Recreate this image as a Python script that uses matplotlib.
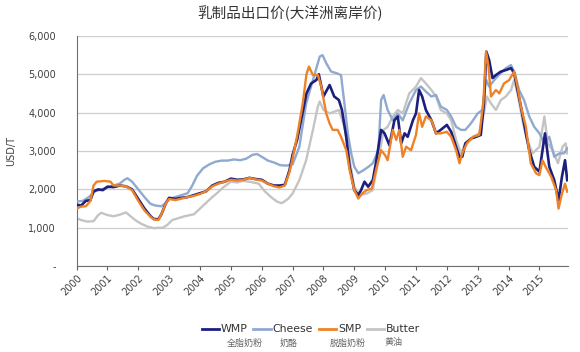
import matplotlib
matplotlib.use("Agg")
import matplotlib.pyplot as plt
from matplotlib.lines import Line2D

plt.rcParams['font.family'] = ['Noto Sans CJK SC', 'DejaVu Sans']

title = "乳制品出口价(大洋洲离岸价)"
y_label = "USD/T"
series_names = ["WMP", "Cheese", "SMP", "Butter"]
series_cn = ["全脂奶粉", "奶酪", "脱脂奶粉", "黄油"]
years = list(range(2000, 2016))
y_ticks = [0, 1000, 2000, 3000, 4000, 5000, 6000]
y_tick_labels = ["-", "1,000", "2,000", "3,000", "4,000", "5,000", "6,000"]

wmp_dates = [2000.0, 2000.15, 2000.3, 2000.45, 2000.55, 2000.7, 2000.85, 2001.0, 2001.2, 2001.4, 2001.6, 2001.8,
             2002.0, 2002.2, 2002.4, 2002.5, 2002.65, 2002.75, 2002.9, 2003.0, 2003.2, 2003.4, 2003.6, 2003.8,
             2004.0, 2004.2, 2004.4, 2004.6, 2004.8, 2005.0, 2005.2, 2005.4, 2005.6, 2005.8, 2006.0, 2006.2,
             2006.4, 2006.58, 2006.75, 2006.9, 2007.0, 2007.15, 2007.3, 2007.45, 2007.6, 2007.77, 2007.85,
             2008.0, 2008.2, 2008.35, 2008.5, 2008.6, 2008.74, 2008.85, 2009.0, 2009.13, 2009.22, 2009.33,
             2009.45, 2009.6, 2009.7, 2009.87, 2009.98, 2010.14, 2010.3, 2010.41, 2010.52, 2010.63, 2010.73,
             2010.9, 2011.0, 2011.1, 2011.2, 2011.32, 2011.5, 2011.65, 2011.8, 2012.0, 2012.14, 2012.3,
             2012.41, 2012.5, 2012.6, 2012.8, 2012.95, 2013.1, 2013.2, 2013.28, 2013.37, 2013.48, 2013.59,
             2013.75, 2013.91, 2014.08, 2014.18, 2014.29, 2014.4, 2014.56, 2014.67, 2014.83, 2015.0, 2015.1,
             2015.18, 2015.32, 2015.48, 2015.62, 2015.73, 2015.83, 2015.9]
wmp_values = [1600, 1580, 1700, 1720, 1950, 2000, 1980, 2070, 2060, 2100, 2080, 2000,
              1750, 1500, 1300, 1230, 1220, 1350, 1650, 1780, 1750, 1780, 1800, 1850,
              1900, 1950, 2100, 2170, 2200, 2280, 2250, 2260, 2300, 2270, 2250, 2150,
              2100, 2100, 2120, 2500, 2900, 3300, 3900, 4500, 4760, 4850, 5000,
              4420, 4720, 4420, 4330, 4070, 3370, 2590, 1980, 1850, 1980, 2200,
              2070, 2240, 2680, 3550, 3460, 3150, 3800, 3900, 3200, 3460, 3370,
              3800, 3980, 4590, 4420, 4070, 3800, 3460, 3550, 3680, 3500, 3110,
              2850, 2850, 3200, 3330, 3370, 3420, 4240, 5590, 5370, 4900, 4980,
              5070, 5110, 5160, 5030, 4590, 4160, 3460, 3020, 2590, 2460, 3020,
              3460, 2590, 2240, 1720, 2330, 2760, 2240]

smp_dates = [2000.0, 2000.15, 2000.3, 2000.45, 2000.55, 2000.65, 2000.9, 2001.1, 2001.2, 2001.4, 2001.6, 2001.8,
             2002.0, 2002.2, 2002.4, 2002.5, 2002.65, 2002.75, 2002.9, 2003.0, 2003.2, 2003.4, 2003.6, 2003.8,
             2004.0, 2004.2, 2004.4, 2004.6, 2004.8, 2005.0, 2005.2, 2005.4, 2005.6, 2005.8, 2006.0, 2006.2,
             2006.4, 2006.58, 2006.75, 2006.9, 2007.0, 2007.15, 2007.33, 2007.45, 2007.53, 2007.66, 2007.82,
             2007.93, 2008.09, 2008.2, 2008.3, 2008.46, 2008.57, 2008.74, 2008.85, 2009.0, 2009.13, 2009.25,
             2009.4, 2009.57, 2009.73, 2009.87, 2010.0, 2010.08, 2010.25, 2010.36, 2010.46, 2010.57, 2010.68,
             2010.84, 2011.0, 2011.1, 2011.2, 2011.32, 2011.5, 2011.65, 2011.8, 2012.0, 2012.14, 2012.3,
             2012.41, 2012.5, 2012.65, 2012.85, 2013.05, 2013.18, 2013.27, 2013.35, 2013.43, 2013.59, 2013.7,
             2013.85, 2014.02, 2014.18, 2014.29, 2014.4, 2014.56, 2014.72, 2014.89, 2015.0, 2015.1, 2015.2,
             2015.38, 2015.54, 2015.62, 2015.73, 2015.83, 2015.9]
smp_values = [1500, 1550, 1560, 1700, 2100, 2200, 2220, 2200, 2100, 2100, 2080, 1980,
              1700, 1450, 1280, 1220, 1200, 1350, 1650, 1750, 1720, 1760, 1800, 1830,
              1880, 1950, 2080, 2150, 2200, 2250, 2230, 2250, 2300, 2260, 2230, 2150,
              2080, 2050, 2100, 2450, 2800, 3400, 4240, 5000, 5200, 4980, 4980,
              4680, 3980, 3720, 3550, 3550, 3370, 3020, 2500, 1980, 1760, 1890,
              1980, 2020, 2590, 3020, 2890, 2760, 3550, 3290, 3550, 2850, 3110,
              3020, 3420, 3980, 3630, 3900, 3800, 3460, 3460, 3500, 3370, 3020,
              2680, 2940, 3200, 3370, 3420, 4240, 5590, 5200, 4420, 4590, 4500,
              4760, 4850, 5070, 4680, 4160, 3630, 2680, 2420, 2370, 2760, 2590,
              2330, 1980, 1500, 1890, 2150, 1940]

cheese_dates = [2000.0, 2000.2, 2000.4, 2000.6, 2000.8, 2001.0, 2001.2, 2001.4, 2001.55, 2001.65, 2001.8,
                2002.0, 2002.2, 2002.4, 2002.55, 2002.75, 2002.9, 2003.0, 2003.2, 2003.4, 2003.6, 2003.75,
                2003.9, 2004.1, 2004.3, 2004.5, 2004.7, 2004.9, 2005.1, 2005.3, 2005.5, 2005.7, 2005.85,
                2006.0, 2006.2, 2006.4, 2006.6, 2006.8, 2007.0, 2007.22, 2007.44, 2007.66, 2007.88, 2007.97,
                2008.09, 2008.25, 2008.42, 2008.57, 2008.68, 2008.79, 2008.9, 2009.0, 2009.13, 2009.3,
                2009.46, 2009.6, 2009.78, 2009.87, 2009.95, 2010.08, 2010.25, 2010.41, 2010.57, 2010.78,
                2011.0, 2011.16, 2011.32, 2011.5, 2011.65, 2011.8, 2012.0, 2012.14, 2012.3, 2012.46, 2012.6,
                2012.78, 2013.0, 2013.15, 2013.27, 2013.37, 2013.59, 2013.75, 2013.91, 2014.08, 2014.2,
                2014.34, 2014.5, 2014.67, 2014.83, 2015.0, 2015.16, 2015.32, 2015.48, 2015.65, 2015.8, 2015.9]
cheese_values = [1680, 1700, 1800, 1950, 2000, 2050, 2100, 2150, 2250, 2290, 2200,
                 2000, 1800, 1620, 1580, 1560, 1650, 1750, 1800, 1850, 1900, 2100,
                 2350, 2550, 2650, 2720, 2750, 2750, 2780, 2760, 2800, 2900, 2920,
                 2850, 2750, 2700, 2630, 2620, 2650, 3110, 4240, 4850, 5460, 5500,
                 5290, 5070, 5030, 4980, 4240, 3460, 2940, 2590, 2420, 2500,
                 2590, 2680, 3020, 4330, 4460, 4070, 3800, 3980, 3800, 4240,
                 4590, 4680, 4550, 4420, 4460, 4160, 4070, 3900, 3630, 3550, 3550,
                 3720, 3980, 4070, 4850, 4680, 4900, 5030, 5160, 5240, 5030,
                 4590, 4330, 3900, 3630, 3460, 3200, 3370, 2850, 2940, 2940, 3070]

butter_dates = [2000.0, 2000.15, 2000.35, 2000.55, 2000.7, 2000.8, 2001.0, 2001.2, 2001.4, 2001.6, 2001.75,
                2001.9, 2002.1, 2002.3, 2002.5, 2002.65, 2002.8, 2002.95, 2003.1, 2003.3, 2003.5, 2003.8,
                2004.0, 2004.2, 2004.4, 2004.55, 2004.75, 2005.0, 2005.2, 2005.4, 2005.6, 2005.9, 2006.1,
                2006.3, 2006.5, 2006.65, 2006.85, 2007.0, 2007.22, 2007.44, 2007.66, 2007.82, 2007.88,
                2008.0, 2008.2, 2008.37, 2008.5, 2008.68, 2008.85, 2009.0, 2009.17, 2009.4, 2009.6, 2009.78,
                2009.95, 2010.08, 2010.25, 2010.41, 2010.57, 2010.78, 2011.0, 2011.16, 2011.32, 2011.5,
                2011.65, 2011.8, 2012.0, 2012.14, 2012.3, 2012.46, 2012.6, 2012.85, 2013.05, 2013.2, 2013.3,
                2013.43, 2013.59, 2013.75, 2013.91, 2014.08, 2014.18, 2014.29, 2014.45, 2014.6, 2014.78,
                2015.0, 2015.16, 2015.27, 2015.43, 2015.6, 2015.75, 2015.85, 2015.9]
butter_values = [1250, 1200, 1160, 1170, 1330, 1390, 1330, 1300, 1340, 1400, 1300,
                 1200, 1100, 1030, 990, 1000, 1000, 1080, 1200, 1250, 1300, 1350,
                 1500, 1650, 1800, 1900, 2050, 2200, 2180, 2220, 2200, 2150, 1950,
                 1800, 1680, 1640, 1750, 1890, 2240, 2760, 3550, 4160, 4290,
                 4070, 3980, 4030, 4070, 3630, 2760, 2070, 1850, 1890, 1980, 2760,
                 3550, 3630, 3900, 4070, 3980, 4500, 4680, 4900, 4760, 4590,
                 4420, 4070, 3980, 3800, 3290, 2940, 3200, 3370, 3460, 3980, 4420,
                 4240, 4070, 4330, 4420, 4590, 4850, 4500, 3800, 3290, 2940,
                 3110, 3900, 3200, 3020, 2680, 3110, 3200, 2940]

colors = {"WMP": "#1c1f7e", "Cheese": "#8fa9cf", "SMP": "#ef8226", "Butter": "#c4c4c4"}
latin = 'DejaVu Sans'

fig = plt.figure(figsize=(5.8, 3.52), dpi=100)
ax = fig.add_axes([0.132, 0.244, 0.847, 0.654])

ax.plot(butter_dates, butter_values, color=colors["Butter"], lw=1.7, zorder=2)
ax.plot(cheese_dates, cheese_values, color=colors["Cheese"], lw=1.7, zorder=3)
ax.plot(wmp_dates, wmp_values, color=colors["WMP"], lw=1.9, zorder=4)
ax.plot(smp_dates, smp_values, color=colors["SMP"], lw=1.7, zorder=5)

ax.set_xlim(2000, 2015.92)
ax.set_ylim(0, 6000)
ax.set_yticks(y_ticks)
ax.set_yticklabels(y_tick_labels, family=latin)
ax.set_xticks(years)
ax.set_xticklabels([str(y) for y in years], rotation=45, ha='right', rotation_mode='anchor', family=latin)
ax.tick_params(axis='y', length=0, labelsize=7, colors='#404040', pad=15)
ax.tick_params(axis='x', length=3, labelsize=7, colors='#404040', pad=2, color='#606060')
ax.grid(axis='y', color='#cfcfcf', lw=0.9)
ax.set_axisbelow(True)
for s in ['top', 'right']:
    ax.spines[s].set_visible(False)
ax.spines['left'].set_color('#707070')
ax.spines['bottom'].set_color('#707070')

fig.text(0.019, 0.57, y_label, rotation=90, ha='center', va='center', fontsize=7, color='#404040', family=latin)
fig.text(0.5, 0.963, title, ha='center', va='center', fontsize=10.5, color='#333333')

handles = [Line2D([0], [0], color=colors[n], lw=2) for n in series_names]
leg = fig.legend(handles, series_names, loc='center', bbox_to_anchor=(0.536, 0.064), ncol=4,
                 frameon=False, prop={'family': latin, 'size': 7.8}, handlelength=1.6,
                 handletextpad=0.2, columnspacing=0.5, borderpad=0)
for t in leg.get_texts():
    t.set_color('#333333')

cn_x = [0.422, 0.497, 0.600, 0.678]
for x, t in zip(cn_x, series_cn):
    fig.text(x, 0.026, t, ha='center', va='center', fontsize=6.5, color='#666666')

fig.savefig("out.png", dpi=100)
